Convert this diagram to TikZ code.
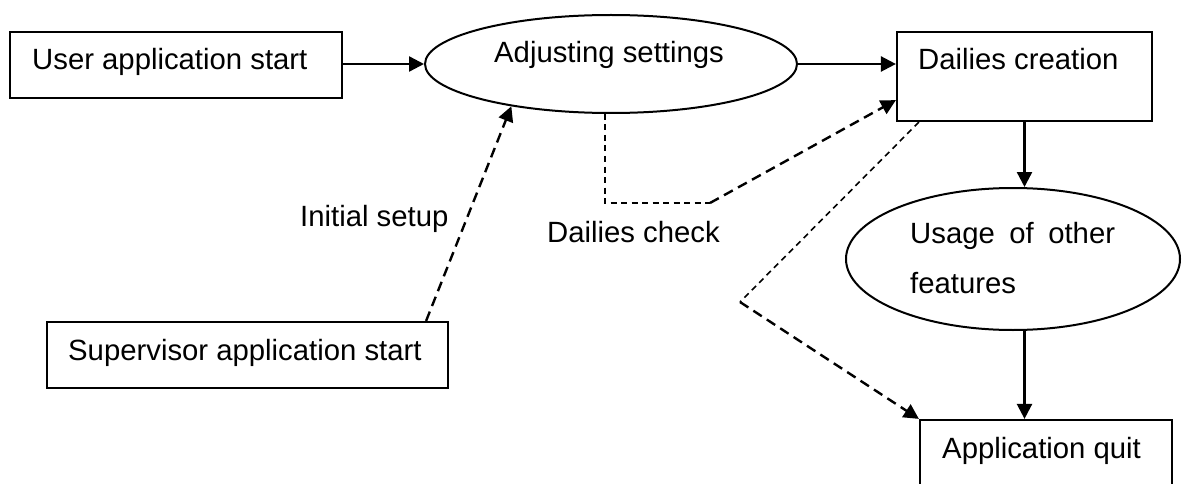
\documentclass[tikz,border=0pt]{standalone}
\usepackage{fontspec}
\setmainfont{Liberation Sans}
\usetikzlibrary{arrows.meta,shapes.geometric,calc}
\begin{document}
\begin{tikzpicture}[x=1pt,y=-1pt,
  boxnode/.style={draw, rectangle, line width=2.2pt, inner sep=0pt},
  ovalnode/.style={draw, ellipse, line width=2pt, inner sep=0pt},
  lbl/.style={anchor=base west, inner sep=0pt, font=\fontsize{29.3}{35}\selectfont},
  tip/.style={-{Triangle[length=15pt,width=15pt]}},
  flow/.style={line width=2.4pt, tip},
  thindash/.style={line width=1.6pt, dash pattern=on 6pt off 4.5pt},
  thickdash/.style={line width=2.4pt, dash pattern=on 10pt off 6pt}]
  \useasboundingbox (0,0) rectangle (1186,484);
  \clip (0,0) rectangle (1186,484);

  % shapes
  \node[boxnode, minimum width=332pt, minimum height=66pt] (user) at (176,65) {};
  \node[ovalnode, minimum width=372pt, minimum height=98pt] (adjust) at (611,64) {};
  \node[boxnode, minimum width=255pt, minimum height=89pt] (dailies) at (1024.5,76.5) {};
  \node[ovalnode, minimum width=334pt, minimum height=142pt] (usage) at (1013,259) {};
  \node[boxnode, minimum width=252pt, minimum height=90pt] (quit) at (1046,465) {};
  \node[boxnode, minimum width=401pt, minimum height=66pt] (super) at (247.5,355) {};

  % texts
  \node[lbl] (tUser) at (32,70) {User application start};
  \node[lbl] (tAdjust) at (494,63) {Adjusting settings};
  \node[lbl] (tDailies) at (918,70) {Dailies creation};
  \node[lbl] (tUsageA) at (910,243) {Usage\hspace{14.5pt}of\hspace{14.5pt}other};
  \node[lbl] (tUsageB) at (910,293) {features};
  \node[lbl] (tQuit) at (942,458) {Application quit};
  \node[lbl] (tSuper) at (68,360) {Supervisor application start};
  \node[lbl] (tInit) at (300,226) {Initial setup};
  \node[lbl] (tCheck) at (547,242) {Dailies check};

  % main flow
  \draw[flow] (user.east |- adjust.west) -- (adjust.west);
  \draw[flow] (adjust.east) -- (adjust.east -| dailies.west);
  \draw[flow] (dailies.south) -- (dailies.south |- usage.north);
  \draw[flow] (usage.south -| dailies.south) -- (dailies.south |- quit.north);

  % initial setup
  \draw[thickdash, tip] ($(super.north east)+(-23,0)$) -- (adjust.203);

  % dailies check
  \coordinate (chkA) at (605,203);
  \coordinate (chkB) at (710,203);
  \draw[thindash] ($(adjust.south)+(-6,0)$) -- (chkA) -- (chkB);
  \draw[thickdash, tip] (chkB) -- ($(dailies.south west)+(0,-22)$);

  % dailies to quit
  \coordinate (bend) at (740,302);
  \draw[thindash] ($(dailies.south west)+(23,0)$) -- (bend);
  \draw[thickdash, tip] (bend) -- (quit.north west);
\end{tikzpicture}
\end{document}
